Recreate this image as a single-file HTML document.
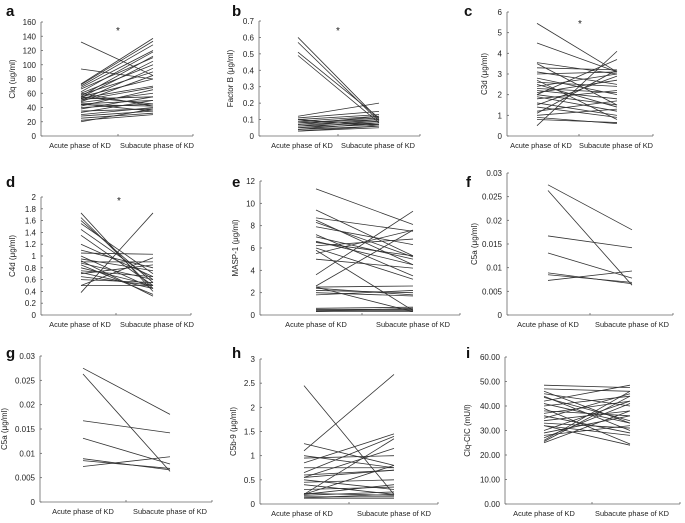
<!DOCTYPE html>
<html><head><meta charset="utf-8"><style>
body{margin:0;background:#fff;width:685px;height:518px;overflow:hidden}
svg{font-family:"Liberation Sans",Arial,sans-serif}
</style></head><body>
<svg id="fig" width="685" height="518"></svg>
<script>
const categories=["Acute phase of KD","Subacute phase of KD"];
const aAcute=[132,94,73,72,70,68,66,62,60,58,56,55,54,53,52,50,48,47,45,44,42,40,38,35,33,30,28,25,22,20,55,60,45,50];
const aSub=[85,80,137,133,128,120,110,118,100,90,112,80,105,70,55,95,85,60,50,42,65,45,55,38,50,40,35,32,30,38,45,42,35,68];
const bAcute=[0.6,0.57,0.51,0.49,0.12,0.11,0.1,0.09,0.08,0.08,0.07,0.07,0.06,0.06,0.05,0.05,0.04,0.04,0.03,0.03,0.09,0.1];
const bSub=[0.1,0.09,0.11,0.08,0.2,0.15,0.13,0.12,0.11,0.1,0.12,0.09,0.1,0.08,0.07,0.09,0.06,0.08,0.06,0.05,0.07,0.06];
const cAcute=[5.45,4.5,3.55,3.5,3.3,3.1,3.0,2.8,2.6,2.5,2.4,2.3,2.2,2.1,2.0,2.0,1.9,1.8,1.6,1.5,1.4,1.2,1.1,1.0,0.9,0.8,0.5,2.7];
const cSub=[3.1,3.1,3.0,1.5,3.2,2.5,3.1,2.0,2.4,1.4,3.0,2.1,1.8,2.7,1.5,3.7,1.2,2.2,1.0,2.9,0.9,1.7,3.2,1.3,0.6,0.65,4.1,0.8];
const dAcute=[1.73,1.65,1.6,1.55,1.45,1.35,1.2,1.1,1.05,1.0,0.95,0.9,0.88,0.85,0.8,0.75,0.72,0.7,0.65,0.6,0.5,0.38,0.5,0.92];
const dSub=[0.4,0.45,0.55,0.7,0.6,0.5,0.65,0.8,1.03,0.45,0.75,0.9,0.6,0.35,0.5,0.65,0.45,0.85,0.5,0.55,0.5,1.73,0.97,0.32];
const eAcute=[11.3,9.4,8.7,8.5,8.3,7.9,7.2,7.0,6.6,6.5,6.2,6.0,5.8,5.5,5.0,3.6,2.6,2.5,2.4,2.2,2.0,1.8,0.6,0.5,0.4,0.3,2.5,0.35];
const eSub=[8.1,5.3,7.5,4.5,5.2,6.3,3.5,5.0,4.5,5.3,6.8,3.2,0.4,7.6,4.2,9.3,7.6,2.6,1.8,2.0,1.7,2.2,0.7,0.5,0.4,0.3,0.3,0.6];
const fAcute=[0.0275,0.0263,0.0167,0.0131,0.0089,0.0085,0.0073];
const fSub=[0.018,0.0063,0.0142,0.0078,0.0066,0.0069,0.0093];
const hAcute=[2.45,1.1,1.25,1.0,0.95,0.85,0.75,0.65,0.6,0.55,0.5,0.45,0.4,0.2,0.2,0.18,0.15,0.13,0.12,0.22,0.3,0.55,0.2];
const hSub=[0.2,2.68,0.8,0.75,1.0,1.45,0.75,1.4,0.7,1.15,0.3,0.5,0.2,1.35,0.4,0.25,0.15,0.2,0.12,0.18,0.35,0.7,0.8];
const iAcute=[48.5,47,46,45,44,43.5,42,40,38,37,36,35,34,33,32,32,30,29,28,26,25.5,25,27,39,41];
const iSub=[47.5,46,33,40,30,34,48.5,44,36,42,29,45,38,31,24,28,42,36,32,46,44,38,41,24.5,33];
const aTicks=[0,20,40,60,80,100,120,140,160];
const bTicks=[0,0.1,0.2,0.3,0.4,0.5,0.6,0.7];
const cTicks=[0,1,2,3,4,5,6];
const dTicks=[0,0.2,0.4,0.6,0.8,1,1.2,1.4,1.6,1.8,2];
const eTicks=[0,2,4,6,8,10,12];
const fTicks=[0,0.005,0.01,0.015,0.02,0.025,0.03];
const hTicks=[0,0.5,1,1.5,2,2.5,3];
const iTicks=[0,10,20,30,40,50,60];

const panels=[
 {id:'a',lx:6,ly:16,ax:41,y0:136,y1:22,end:193,mid:118,p1:81,p2:153,c1:80,c2:157,ticks:aTicks,fmt:v=>String(v),title:'Clq (ug/ml)',A:aAcute,S:aSub,star:[118,30],tt:26},
 {id:'b',lx:232,ly:16,ax:259,y0:136,y1:21,end:420,mid:338,p1:298,p2:379,c1:302,c2:378,ticks:bTicks,fmt:v=>String(v),title:'Factor B (μg/ml)',A:bAcute,S:bSub,star:[338,30],tt:26},
 {id:'c',lx:464,ly:16,ax:507,y0:136,y1:12,end:653,mid:579,p1:537,p2:617,c1:541,c2:616,ticks:cTicks,fmt:v=>String(v),title:'C3d (μg/ml)',A:cAcute,S:cSub,star:[580,23],tt:20},
 {id:'d',lx:6,ly:187,ax:41,y0:315,y1:197,end:191,mid:116,p1:81,p2:153,c1:80,c2:157,ticks:dTicks,fmt:v=>String(v),title:'C4d (μg/ml)',A:dAcute,S:dSub,star:[119,200],tt:26},
 {id:'e',lx:232,ly:187,ax:260,y0:315,y1:181,end:460,mid:362,p1:316,p2:413,c1:316,c2:413,ticks:eTicks,fmt:v=>String(v),title:'MASP-1 (μg/ml)',A:eAcute,S:eSub,tt:22},
 {id:'f',lx:466,ly:187,ax:507,y0:315,y1:173,end:673,mid:590,p1:548,p2:632,c1:548,c2:632,ticks:fTicks,fmt:v=>String(v),title:'C5a (μg/ml)',A:fAcute,S:fSub,tt:30},
 {id:'g',lx:6,ly:358,ax:40,y0:502,y1:356,end:212,mid:126,p1:83,p2:170,c1:83,c2:170,ticks:fTicks,fmt:v=>String(v),title:'C5a (μg/ml)',A:fAcute,S:fSub,tt:33},
 {id:'h',lx:232,ly:358,ax:260,y0:504,y1:359,end:438,mid:349,p1:304,p2:394,c1:302,c2:394,ticks:hTicks,fmt:v=>String(v),title:'C5b-9 (μg/ml)',A:hAcute,S:hSub,tt:24},
 {id:'i',lx:466,ly:358,ax:505,y0:504,y1:357,end:680,mid:592,p1:544,p2:630,c1:544,c2:632,ticks:iTicks,fmt:v=>v.toFixed(2),title:'Clq-CIC (mU/l)',A:iAcute,S:iSub,tt:35}
];
const NS='http://www.w3.org/2000/svg';
const fig=document.getElementById('fig');
function mk(tag,attrs,parent,text){const e=document.createElementNS(NS,tag);for(const k in attrs)e.setAttribute(k,attrs[k]);if(text!==undefined)e.textContent=text;parent.appendChild(e);return e;}
panels.forEach(p=>{
 const g=mk('g',{},fig);
 
 
 const max=p.ticks[p.ticks.length-1];
 const y=v=>p.y0-(v/max)*(p.y0-p.y1);
 const lab=mk('text',{x:p.lx,y:p.ly,'font-size':15,'font-weight':'bold',fill:'#111'},g,p.id);
 
 
 const ya=mk('line',{x1:p.ax,y1:p.y0,x2:p.ax,y2:p.y1,stroke:'#666','stroke-width':0.8},g);
 
 
 const xa=mk('line',{x1:p.ax,y1:p.y0,x2:p.end,y2:p.y0,stroke:'#666','stroke-width':0.8},g);
 
 
 [p.mid,p.end].forEach(tx=>mk('line',{x1:tx,y1:p.y0,x2:tx,y2:p.y0-2,stroke:'#666','stroke-width':0.8},g));
 p.ticks.forEach(t=>{
  const yy=y(t);
  mk('line',{x1:p.ax,y1:yy,x2:p.ax+2,y2:yy,stroke:'#666','stroke-width':0.8},g);
  const tl=mk('text',{x:p.ax-5,y:yy+3,'font-size':8,'text-anchor':'end',fill:'#222'},g,p.fmt(t));
  
  
 });
 const yt=mk('text',{x:0,y:0,'font-size':8,'text-anchor':'middle',fill:'#222',transform:`translate(${p.ax-p.tt},${(p.y0+p.y1)/2}) rotate(-90)`},g,p.title);
 
 
 [p.c1,p.c2].forEach((cx,i)=>{
  const ct=mk('text',{x:cx,y:p.y0+12,'font-size':7.4,'text-anchor':'middle',fill:'#222'},g,categories[i]);
  
  
 });
 p.A.forEach((v,i)=>{
  const ln=mk('line',{x1:p.p1,y1:y(v),x2:p.p2,y2:y(p.S[i]),stroke:'#333','stroke-width':0.8},g);
  
  
 });
 if(p.star){
  const st=mk('text',{x:p.star[0],y:p.star[1]+4,'font-size':10,'text-anchor':'middle',fill:'#222'},g,'*');
  
  
 }
});
</script>
</body></html>
